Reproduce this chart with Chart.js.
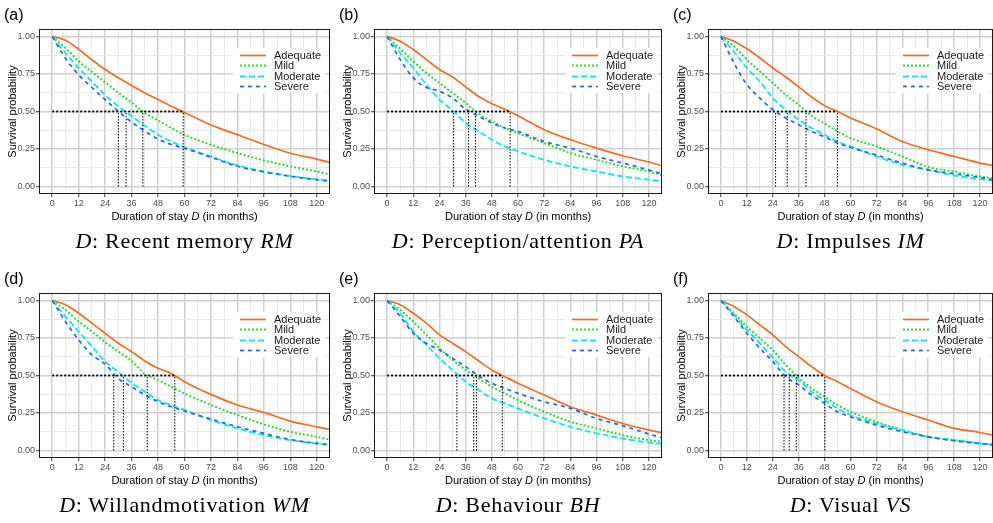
<!DOCTYPE html>
<html><head><meta charset="utf-8">
<script src="https://cdn.jsdelivr.net/npm/chart.js@4/dist/chart.umd.min.js"></script>
<style>
html,body{margin:0;padding:0;background:#fff}
body{width:993px;height:523px;position:relative;overflow:hidden;font-family:"Liberation Sans",Arial,sans-serif}
canvas{position:absolute}
.lab{position:absolute;font-size:16px;line-height:20px;color:#000;white-space:nowrap}
.xt{position:absolute;font-size:11px;line-height:14px;color:#000;white-space:nowrap;transform:translateX(-50%)}
.cap{position:absolute;font-family:"Liberation Serif","Times New Roman",serif;font-size:22px;line-height:24px;color:#000;white-space:nowrap;transform:translateX(-50%);letter-spacing:0.7px}
</style></head>
<body>
<script>
// ---------- data ----------
const months = [0, 6, 12, 18, 24, 30, 36, 42, 48, 54, 60, 72, 84, 96, 108, 120, 126];
const groups = ["Adequate", "Mild", "Moderate", "Severe"];
const xTickValues = [0, 6, 12, 18, 24, 30, 36, 42, 48, 54, 60, 66, 72, 78, 84, 90, 96, 102, 108, 114, 120];
const yTickValues = [0, 0.125, 0.25, 0.375, 0.5, 0.625, 0.75, 0.875, 1];
const panelLabels = ["(a)", "(b)", "(c)", "(d)", "(e)", "(f)"];
const captionNames = ["Recent memory", "Perception/attention", "Impulses", "Willandmotivation", "Behaviour", "Visual"];
const captionSymbols = ["RM", "PA", "IM", "WM", "BH", "VS"];

// (a) Recent memory
const rmAdequate = [1, 0.975, 0.915, 0.845, 0.78, 0.725, 0.673, 0.624, 0.58, 0.535, 0.493, 0.41, 0.345, 0.28, 0.222, 0.183, 0.16];
const rmMild     = [1, 0.924, 0.835, 0.765, 0.695, 0.625, 0.56, 0.49, 0.44, 0.39, 0.345, 0.278, 0.223, 0.174, 0.134, 0.1, 0.08];
const rmModerate = [1, 0.89, 0.79, 0.70, 0.61, 0.535, 0.47, 0.405, 0.345, 0.30, 0.262, 0.2, 0.14, 0.1, 0.07, 0.047, 0.038];
const rmSevere   = [1, 0.855, 0.745, 0.66, 0.58, 0.5, 0.43, 0.37, 0.316, 0.28, 0.255, 0.195, 0.135, 0.097, 0.068, 0.045, 0.036];
const rmMedians  = [59.4, 41.1, 33.5, 30.0];

// (b) Perception/attention
const paAdequate = [1, 0.969, 0.913, 0.846, 0.78, 0.73, 0.664, 0.60, 0.552, 0.515, 0.472, 0.379, 0.312, 0.256, 0.205, 0.163, 0.138];
const paMild     = [1, 0.917, 0.835, 0.757, 0.69, 0.624, 0.557, 0.485, 0.434, 0.39, 0.356, 0.29, 0.223, 0.178, 0.134, 0.1, 0.075];
const paModerate = [1, 0.89, 0.79, 0.68, 0.58, 0.508, 0.423, 0.368, 0.312, 0.267, 0.234, 0.178, 0.134, 0.1, 0.067, 0.045, 0.035];
const paSevere   = [1, 0.846, 0.724, 0.66, 0.635, 0.59, 0.515, 0.468, 0.423, 0.39, 0.367, 0.30, 0.256, 0.2, 0.156, 0.11, 0.085];
const paMedians  = [56.4, 40.5, 30.5, 37.3];

// (c) Impulses
const imAdequate = [1, 0.969, 0.918, 0.857, 0.79, 0.73, 0.664, 0.597, 0.539, 0.5, 0.457, 0.385, 0.30, 0.245, 0.20, 0.156, 0.138];
const imMild     = [1, 0.935, 0.846, 0.768, 0.69, 0.612, 0.546, 0.472, 0.419, 0.367, 0.323, 0.267, 0.20, 0.13, 0.1, 0.067, 0.056];
const imModerate = [1, 0.90, 0.79, 0.70, 0.59, 0.512, 0.445, 0.39, 0.345, 0.30, 0.267, 0.2, 0.145, 0.111, 0.073, 0.049, 0.038];
const imSevere   = [1, 0.824, 0.68, 0.59, 0.512, 0.457, 0.412, 0.367, 0.33, 0.29, 0.26, 0.21, 0.156, 0.111, 0.085, 0.06, 0.045];
const imMedians  = [53.9, 39.4, 30.7, 25.3];

// (d) Willandmotivation
const wmAdequate = [1, 0.971, 0.915, 0.849, 0.782, 0.715, 0.659, 0.597, 0.548, 0.514, 0.459, 0.374, 0.303, 0.254, 0.196, 0.158, 0.14];
const wmMild     = [1, 0.938, 0.86, 0.793, 0.722, 0.659, 0.597, 0.51, 0.47, 0.425, 0.38, 0.303, 0.236, 0.174, 0.125, 0.091, 0.072];
const wmModerate = [1, 0.893, 0.793, 0.695, 0.594, 0.523, 0.45, 0.392, 0.336, 0.303, 0.27, 0.203, 0.147, 0.102, 0.069, 0.047, 0.038];
const wmSevere   = [1, 0.86, 0.737, 0.637, 0.575, 0.48, 0.425, 0.37, 0.325, 0.292, 0.263, 0.209, 0.158, 0.114, 0.073, 0.047, 0.038];
const wmMedians  = [55.6, 43.1, 32.3, 27.9];

// (e) Behaviour
const bhAdequate = [1, 0.971, 0.915, 0.849, 0.771, 0.715, 0.659, 0.597, 0.537, 0.492, 0.448, 0.37, 0.292, 0.236, 0.18, 0.136, 0.118];
const bhMild     = [1, 0.938, 0.86, 0.771, 0.682, 0.604, 0.537, 0.481, 0.425, 0.381, 0.336, 0.258, 0.192, 0.147, 0.102, 0.069, 0.058];
const bhModerate = [1, 0.915, 0.793, 0.704, 0.615, 0.537, 0.459, 0.403, 0.347, 0.314, 0.28, 0.214, 0.158, 0.114, 0.08, 0.053, 0.045];
const bhSevere   = [1, 0.893, 0.782, 0.715, 0.67, 0.615, 0.559, 0.497, 0.448, 0.414, 0.381, 0.325, 0.281, 0.214, 0.165, 0.11, 0.085];
const bhMedians  = [52.8, 39.7, 32.0, 41.0];

// (f) Visual
const vsAdequate = [1, 0.96, 0.904, 0.838, 0.771, 0.693, 0.626, 0.559, 0.5, 0.459, 0.414, 0.325, 0.258, 0.203, 0.147, 0.12, 0.102];
const vsMild     = [1, 0.915, 0.826, 0.748, 0.67, 0.57, 0.485, 0.414, 0.359, 0.303, 0.258, 0.192, 0.136, 0.091, 0.069, 0.047, 0.04];
const vsModerate = [1, 0.904, 0.804, 0.715, 0.62, 0.525, 0.47, 0.392, 0.336, 0.28, 0.236, 0.18, 0.136, 0.091, 0.069, 0.047, 0.038];
const vsSevere   = [1, 0.893, 0.782, 0.682, 0.593, 0.492, 0.437, 0.37, 0.314, 0.258, 0.225, 0.169, 0.125, 0.091, 0.065, 0.047, 0.038];
const vsMedians  = [48.1, 34.9, 31.6, 29.2];

const panelSeries = [
  [rmAdequate, rmMild, rmModerate, rmSevere],
  [paAdequate, paMild, paModerate, paSevere],
  [imAdequate, imMild, imModerate, imSevere],
  [wmAdequate, wmMild, wmModerate, wmSevere],
  [bhAdequate, bhMild, bhModerate, bhSevere],
  [vsAdequate, vsMild, vsModerate, vsSevere]
];
const panelMedians = [rmMedians, paMedians, imMedians, wmMedians, bhMedians, vsMedians];

// ---------- styles / geometry ----------
const colors = ["#F26D21", "#22DD22", "#12E6F2", "#2168F0"];
const dashes = [[], [2, 2], [6, 3], [4, 4]];
const widths = [1.7, 1.9, 1.9, 1.7];
const colLeft = [39, 374, 708];
const colRight = [330, 662, 993];
const rowTop = [29, 293];
const rowBottom = [194, 458];
const yAxisW = 39;

const framePlugin = {
  id: 'frame',
  afterDraw(chart) {
    const {ctx, chartArea: a} = chart;
    ctx.save();
    ctx.fillStyle = '#fff';
    ctx.fillRect(a.right - 97, a.top + 19, 92, 45);
    for (let i = 0; i < 4; i++) {
      const ds = chart.data.datasets[i];
      const y = Math.round(a.top + 26 + i * 10.3) + 0.5;
      ctx.beginPath();
      ctx.setLineDash(ds.borderDash);
      ctx.strokeStyle = ds.borderColor;
      ctx.lineWidth = ds.borderWidth;
      ctx.moveTo(a.right - 90, y);
      ctx.lineTo(a.right - 64, y);
      ctx.stroke();
      ctx.setLineDash([]);
      ctx.fillStyle = '#1a1a1a';
      ctx.font = '11px "Liberation Sans", Arial, sans-serif';
      ctx.textBaseline = 'middle';
      ctx.textAlign = 'left';
      ctx.fillText(ds.label, a.right - 56, y);
    }
    ctx.strokeStyle = '#1a1a1a';
    ctx.lineWidth = 1;
    ctx.strokeRect(Math.round(a.left) + 0.5, Math.round(a.top) + 0.5, Math.round(a.right - a.left) - 1, Math.round(a.bottom - a.top) - 1);
    ctx.restore();
  }
};

function isMajor(v, step) { return Math.abs(v / step - Math.round(v / step)) < 1e-9; }

for (let p = 0; p < 6; p++) {
  const col = p % 3, row = Math.floor(p / 3);
  const cl = colLeft[col], cr = colRight[col], ct = rowTop[row], cb = rowBottom[row];
  const L = cl - yAxisW, T = ct - 29;
  const W = cr - L, H = cb - T + 16;

  const cv = document.createElement('canvas');
  cv.width = W; cv.height = H;
  cv.style.left = L + 'px'; cv.style.top = T + 'px';
  cv.style.width = W + 'px'; cv.style.height = H + 'px';
  document.body.appendChild(cv);

  const lab = document.createElement('div');
  lab.className = 'lab'; lab.textContent = panelLabels[p];
  lab.style.left = (cl - 35) + 'px'; lab.style.top = (ct - 24) + 'px';
  document.body.appendChild(lab);

  const xt = document.createElement('div');
  xt.className = 'xt';
  xt.innerHTML = 'Duration of stay <i>D</i> (in months)';
  xt.style.left = ((cl + cr) / 2) + 'px'; xt.style.top = (cb + 15) + 'px';
  document.body.appendChild(xt);

  const cap = document.createElement('div');
  cap.className = 'cap';
  cap.innerHTML = '<i>D</i>: ' + captionNames[p] + ' <i>' + captionSymbols[p] + '</i>';
  cap.style.left = ((cl + cr) / 2) + 'px'; cap.style.top = (cb + 35) + 'px';
  document.body.appendChild(cap);

  const series = panelSeries[p];
  const meds = panelMedians[p];
  const datasets = groups.map((g, i) => ({
    label: g,
    data: months.map((m, j) => ({x: m, y: series[i][j]})),
    borderColor: colors[i], borderDash: dashes[i], borderWidth: widths[i],
    pointRadius: 0, fill: false, cubicInterpolationMode: 'monotone',
    order: 4 - i
  }));
  const maxMed = Math.max(...meds);
  datasets.push({
    label: 'median-h', data: [{x: 0, y: 0.5}, {x: maxMed, y: 0.5}],
    borderColor: '#000', borderDash: [2, 2], borderWidth: 1.8, pointRadius: 0, order: 0
  });
  meds.forEach(m => datasets.push({
    label: 'median-v', data: [{x: m, y: 0}, {x: m, y: 0.5}],
    borderColor: '#000', borderDash: [1.5, 1.5], borderWidth: 1, pointRadius: 0, order: 0
  }));

  new Chart(cv, {
    type: 'line',
    data: {datasets},
    plugins: [framePlugin],
    options: {
      responsive: false, animation: false, devicePixelRatio: 1,
      layout: {padding: {top: 29, right: 0, left: 0, bottom: 0}},
      plugins: {legend: {display: false}, tooltip: {enabled: false}},
      scales: {
        x: {
          type: 'linear', min: -6, max: 126,
          afterBuildTicks: s => { s.ticks = xTickValues.map(v => ({value: v})); },
          afterFit: s => { s.height = 16; },
          border: {display: false},
          grid: {
            color: c => (c.tick && isMajor(c.tick.value, 12)) ? '#D0D0D0' : '#E6E6E6',
            lineWidth: c => (c.tick && isMajor(c.tick.value, 12)) ? 1.5 : 0.9,
            tickColor: c => (c.tick && isMajor(c.tick.value, 12)) ? '#333' : 'rgba(0,0,0,0)',
            tickLength: 3, tickWidth: 1
          },
          ticks: {
            autoSkip: false, maxRotation: 0, padding: 1,
            color: '#4D4D4D', font: {family: '"Liberation Sans", Arial, sans-serif', size: 9},
            callback: v => isMajor(v, 12) ? String(v) : ''
          }
        },
        y: {
          type: 'linear', min: -0.05, max: 1.05,
          afterBuildTicks: s => { s.ticks = yTickValues.map(v => ({value: v})); },
          afterFit: s => { s.width = yAxisW; },
          border: {display: false},
          grid: {
            color: c => (c.tick && isMajor(c.tick.value, 0.25)) ? '#D0D0D0' : '#E6E6E6',
            lineWidth: c => (c.tick && isMajor(c.tick.value, 0.25)) ? 1.5 : 0.9,
            tickColor: c => (c.tick && isMajor(c.tick.value, 0.25)) ? '#333' : 'rgba(0,0,0,0)',
            tickLength: 3, tickWidth: 1
          },
          ticks: {
            autoSkip: false, padding: 1,
            color: '#4D4D4D', font: {family: '"Liberation Sans", Arial, sans-serif', size: 9},
            callback: v => isMajor(v, 0.25) ? v.toFixed(2) : ''
          },
          title: {
            display: true, text: 'Survival probability', color: '#000',
            font: {family: '"Liberation Sans", Arial, sans-serif', size: 11},
            padding: {top: 6, bottom: 0}
          }
        }
      }
    }
  });
}
</script>
</body></html>
